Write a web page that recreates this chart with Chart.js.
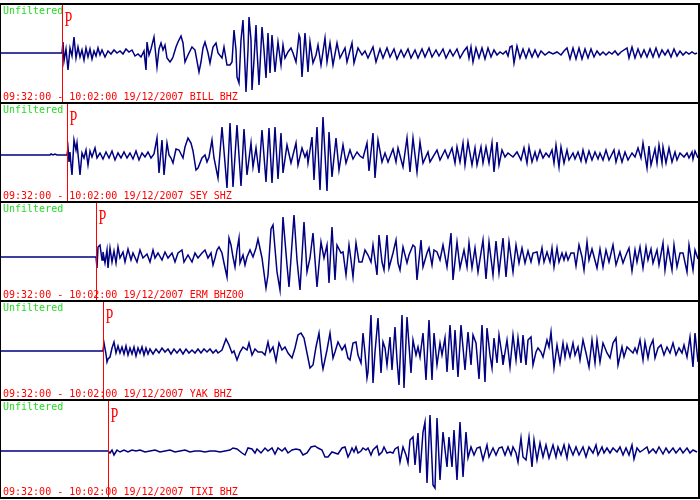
<!DOCTYPE html>
<html>
<head>
<script src="https://cdn.jsdelivr.net/npm/chart.js"></script>
<style>
  body { margin: 0; background: #fff; }
  #wrap { position: relative; width: 700px; height: 500px; }
  .panel { position: absolute; left: 0; }
</style>
</head>
<body>
<div id="wrap"></div>
<script>
// 30 minute window, one sample per screen column
const SAMPLES = 700;
const windowLabel = '09:32:00 - 10:02:00 19/12/2007';
const filterLabel = 'Unfiltered';
const stations = ['BILL BHZ', 'SEY SHZ', 'ERM BHZ00', 'YAK BHZ', 'TIXI BHZ'];
const pArrival = [62, 67, 96, 103, 108];   // sample index of P pick

// [sample, amplitude]
const bill = [[0,0],[62,0],[63,11],[64,-8],[66,4],[68,-17],[70,5],[72,-3],[74,16],[76,-5],[78,6],[80,-4],[82,3],[84,-7],[86,5],[88,-4],[90,4],[92,-6],[94,2],[96,-3],[98,5],[100,-2],[102,3],[105,-4],[108,2],[111,-1],[114,3],[117,0],[120,2],[123,-1],[126,4],[129,1],[132,3],[135,-3],[138,-1],[141,-4],[144,2],[146,-17],[147,11],[149,-2],[151,4],[154,16],[157,-14],[159,4],[161,10],[163,3],[165,8],[167,-5],[170,-9],[172,-6],[173,-4],[176,6],[178,11],[181,17],[183,10],[185,-9],[188,-2],[192,6],[195,3],[199,-19],[201,-9],[203,5],[205,11],[208,0],[210,-10],[213,6],[216,10],[218,0],[222,-5],[224,6],[227,-12],[230,-12],[232,-9],[234,23],[236,3],[237,-24],[239,-30],[241,13],[243,33],[245,-14],[246,-39],[248,3],[249,36],[251,13],[252,-37],[254,-7],[256,28],[257,3],[259,-32],[261,6],[262,26],[264,3],[266,-25],[268,20],[270,-20],[272,18],[275,-19],[278,11],[281,-12],[283,8],[285,-5],[288,1],[291,5],[293,0],[296,-9],[299,18],[300,15],[302,-24],[305,20],[308,-19],[310,11],[313,-10],[316,-2],[318,8],[321,-12],[325,15],[327,-9],[330,10],[333,-12],[337,10],[340,-5],[345,5],[347,-9],[352,10],[354,-10],[358,5],[362,-2],[365,2],[368,-5],[373,6],[376,-9],[380,4],[383,-5],[387,5],[390,-4],[394,4],[397,-6],[401,3],[404,-4],[408,4],[411,-5],[415,3],[418,-5],[422,4],[425,-4],[429,5],[432,-4],[436,3],[439,-3],[443,4],[446,-5],[450,3],[453,-3],[457,4],[460,-5],[464,2],[467,6],[469,-5],[471,6],[473,-9],[476,5],[479,-5],[482,5],[485,-6],[488,5],[491,-4],[494,3],[497,-2],[500,1],[503,-1],[506,2],[508,-3],[510,6],[512,7],[514,-10],[517,7],[520,-5],[523,4],[526,-5],[529,4],[532,-4],[535,3],[538,-4],[541,2],[545,-2],[549,1],[553,-1],[557,1],[561,-2],[564,2],[567,5],[570,-6],[573,5],[576,-6],[579,5],[582,-6],[585,4],[588,-5],[591,4],[594,-4],[597,2],[600,-2],[603,1],[606,-2],[609,1],[612,-1],[615,2],[618,-2],[621,1],[627,5],[629,-5],[632,6],[635,-5],[638,4],[641,-4],[644,3],[647,-4],[650,4],[653,-4],[656,5],[659,-4],[662,3],[665,-2],[668,3],[671,-4],[674,4],[677,-3],[680,2],[683,-2],[686,1],[689,-1],[692,1],[695,-1],[697,0]];

const sey = [[0,0],[50,0],[51,1],[53,0],[55,1],[57,0],[67,0],[68,7],[69,-7],[70,3],[71,-10],[72,-20],[74,15],[76,5],[77,12],[80,-20],[82,2],[84,-3],[86,5],[88,-10],[90,4],[92,-2],[95,7],[97,-3],[100,2],[103,-4],[106,3],[109,-3],[112,4],[115,-5],[118,2],[121,-3],[124,3],[127,-3],[130,2],[133,-4],[136,4],[139,-5],[142,2],[145,-2],[148,3],[151,-3],[154,1],[157,17],[159,-18],[162,15],[164,-20],[167,12],[169,0],[171,-3],[173,-8],[176,6],[179,5],[183,-3],[185,8],[188,17],[191,12],[193,4],[196,-15],[198,-13],[202,-3],[205,0],[207,-7],[209,-2],[212,15],[214,-3],[218,-23],[222,28],[225,-8],[227,-33],[230,32],[233,-32],[237,30],[241,-31],[244,26],[247,-20],[251,12],[253,-12],[256,7],[259,-18],[262,25],[266,-27],[269,27],[272,-28],[275,28],[278,-24],[281,22],[283,-18],[287,10],[291,-8],[296,12],[298,-10],[302,7],[305,-2],[307,3],[308,-8],[312,18],[314,-25],[317,28],[320,-35],[323,38],[327,-36],[329,23],[332,-22],[336,17],[339,-15],[343,10],[346,-8],[350,5],[353,-4],[357,3],[360,-1],[363,-3],[367,12],[369,-16],[373,22],[375,-23],[378,15],[382,-7],[385,2],[388,-7],[393,6],[396,-7],[398,7],[403,-12],[407,17],[410,-17],[413,17],[417,-17],[420,13],[423,-8],[428,3],[430,-7],[437,5],[440,-5],[445,5],[448,-3],[452,7],[455,-8],[457,8],[460,-7],[463,12],[465,-10],[468,13],[472,-10],[475,7],[477,-10],[481,8],[483,-8],[486,8],[489,-8],[492,12],[494,-17],[497,13],[499,-10],[502,5],[505,-2],[508,2],[513,-2],[517,3],[521,-5],[524,7],[527,-8],[529,8],[532,-7],[535,3],[537,-5],[540,5],[543,-3],[546,2],[549,-2],[552,5],[554,-8],[556,10],[559,-12],[561,8],[564,-8],[567,5],[569,-5],[573,2],[575,-4],[578,3],[581,-6],[583,5],[586,-7],[589,4],[592,-5],[595,3],[598,-4],[600,2],[603,-5],[606,5],[609,-5],[614,5],[616,-7],[619,4],[622,-7],[625,3],[628,-5],[632,2],[635,-2],[638,7],[641,-3],[643,12],[647,-13],[649,9],[651,-10],[655,6],[657,-8],[659,10],[662,-8],[663,8],[666,-8],[669,7],[672,-7],[675,3],[677,-5],[680,2],[684,-2],[687,2],[689,-3],[692,3],[693,-4],[695,4],[698,-3]];

const erm = [[0,0],[96,0],[97,-11],[98,10],[100,12],[102,-3],[103,5],[105,-6],[107,7],[108,-11],[110,9],[112,-5],[114,6],[116,-6],[118,10],[120,-1],[123,5],[125,-5],[128,8],[131,-3],[133,4],[137,-5],[140,7],[143,-1],[147,3],[150,-5],[153,7],[155,-1],[158,4],[162,-3],[165,5],[168,-1],[172,4],[175,-5],[178,4],[182,7],[184,-5],[188,2],[192,-5],[195,4],[198,-1],[202,4],[205,7],[208,-1],[211,4],[213,-8],[215,-1],[217,7],[219,10],[222,4],[224,-6],[227,-20],[229,19],[231,12],[233,0],[235,-10],[237,7],[239,19],[240,-6],[243,2],[245,-8],[247,0],[250,7],[253,0],[256,9],[258,18],[262,-1],[266,-31],[268,-18],[271,28],[273,32],[277,-15],[280,-33],[283,40],[287,-8],[289,-30],[294,42],[297,-3],[300,-33],[304,35],[307,-15],[310,-1],[313,24],[317,-30],[321,15],[324,-1],[327,12],[329,-26],[332,30],[335,-23],[337,12],[341,4],[343,5],[346,-18],[349,12],[351,-3],[353,-20],[356,14],[359,-5],[362,-5],[365,7],[368,2],[371,-5],[373,12],[377,-18],[379,22],[382,-5],[384,-13],[387,22],[389,-11],[393,4],[396,17],[398,-6],[400,-13],[403,10],[407,-6],[409,2],[413,12],[415,10],[417,-23],[421,17],[423,-10],[427,4],[429,9],[432,-8],[434,7],[437,5],[440,-3],[443,12],[447,-10],[451,24],[453,-23],[457,15],[460,-11],[464,7],[467,-10],[469,14],[472,-11],[475,9],[478,-15],[483,17],[486,-22],[489,15],[493,-18],[496,16],[499,-16],[503,19],[506,-20],[509,15],[513,-15],[516,12],[519,-6],[522,9],[525,-6],[528,6],[531,-5],[533,4],[537,5],[539,-6],[542,9],[544,-5],[547,5],[550,-5],[552,9],[554,-10],[557,9],[559,-5],[562,4],[564,-3],[566,4],[568,-3],[571,4],[574,4],[576,-9],[579,12],[582,0],[584,-13],[587,15],[589,-3],[592,8],[597,-11],[600,8],[603,-10],[606,7],[609,-5],[613,12],[616,-8],[620,5],[623,-6],[626,2],[629,9],[632,-14],[635,7],[637,-5],[640,10],[643,-11],[646,10],[648,-3],[651,8],[653,-6],[657,7],[659,-8],[663,14],[665,-13],[668,9],[672,-13],[674,12],[677,-10],[680,4],[683,4],[687,-15],[689,12],[693,-13],[695,7],[698,-2]];

const yak = [[0,0],[103,0],[104,8],[106,-3],[107,-11],[108,-8],[110,-6],[112,3],[114,9],[116,-2],[118,5],[120,-2],[122,4],[124,-3],[126,5],[128,-4],[130,3],[132,-3],[134,4],[136,-5],[138,3],[140,-2],[142,4],[144,-4],[146,3],[148,-3],[150,2],[153,-3],[156,2],[159,-2],[162,3],[165,-1],[168,2],[171,-3],[174,2],[177,-2],[180,2],[183,-3],[186,2],[189,-2],[192,1],[195,-2],[198,2],[201,-2],[204,2],[207,-1],[210,2],[213,-2],[216,1],[218,-2],[222,1],[226,12],[229,6],[232,-2],[234,0],[237,-9],[240,-1],[243,4],[247,1],[249,8],[252,-4],[255,2],[258,-1],[262,-1],[265,-4],[268,9],[270,-1],[273,4],[276,-10],[279,8],[282,1],[285,4],[288,-2],[292,-7],[295,3],[298,16],[301,18],[304,13],[307,-2],[310,-17],[313,-14],[316,4],[319,18],[322,-12],[323,-18],[327,1],[330,18],[333,-7],[335,-1],[338,9],[342,1],[345,6],[348,-7],[350,-9],[353,8],[356,9],[358,-4],[361,-12],[363,18],[365,-2],[367,-27],[368,-21],[371,36],[373,-32],[375,-1],[378,33],[381,-22],[383,9],[385,3],[387,-14],[390,14],[392,-19],[395,24],[397,-9],[399,-34],[402,36],[404,-37],[407,34],[411,-22],[413,11],[416,-4],[418,4],[420,-6],[423,18],[426,-29],[429,31],[432,-29],[434,18],[437,-14],[440,8],[442,-4],[445,13],[447,-21],[450,26],[453,-19],[455,21],[458,-26],[461,26],[465,-19],[468,19],[471,-14],[473,16],[476,8],[479,-28],[482,26],[485,-31],[487,23],[490,-4],[492,-17],[494,13],[497,-12],[499,16],[502,-4],[503,-14],[507,11],[510,-16],[513,16],[516,-9],[518,13],[521,-12],[523,16],[526,-14],[528,11],[531,14],[533,-14],[536,-1],[538,3],[541,-1],[543,-6],[547,11],[549,4],[551,19],[554,-17],[557,6],[560,-12],[563,8],[565,-6],[567,6],[570,-6],[573,8],[575,-4],[578,4],[580,-9],[583,11],[586,-2],[589,-16],[592,11],[595,-12],[597,11],[600,-11],[603,8],[607,-2],[610,-7],[613,8],[616,13],[618,-14],[622,4],[624,-6],[627,4],[630,1],[633,-2],[635,3],[637,-2],[640,11],[643,-9],[645,9],[648,-7],[650,4],[653,11],[655,-7],[658,3],[661,6],[664,-4],[667,4],[670,-2],[673,8],[676,-4],[679,3],[682,-2],[684,6],[687,-6],[690,14],[693,-16],[695,18],[698,-11]];

const tixi = [[0,0],[108,0],[110,-2],[112,1],[114,-4],[117,1],[120,-1],[124,1],[128,-1],[132,1],[136,0],[140,1],[145,-1],[150,0],[155,1],[160,-1],[165,0],[170,1],[175,-1],[180,0],[185,1],[190,-1],[195,0],[200,0],[205,-1],[210,0],[215,0],[220,-1],[225,0],[230,1],[233,3],[237,2],[242,-2],[245,-4],[248,3],[252,2],[255,-2],[257,2],[261,-2],[265,3],[268,0],[272,3],[275,-3],[278,3],[282,0],[285,3],[288,-2],[292,1],[296,2],[300,1],[303,-4],[307,-2],[311,4],[315,5],[318,3],[322,1],[325,-6],[328,-6],[332,-1],[335,-2],[338,-3],[342,3],[345,4],[348,-6],[350,-2],[352,3],[354,-1],[356,4],[358,-2],[361,0],[363,3],[366,1],[368,3],[371,-4],[373,1],[377,5],[379,-4],[382,-1],[384,4],[387,-2],[390,-1],[393,-2],[395,2],[398,4],[400,-11],[403,4],[406,-4],[408,-12],[410,11],[413,14],[415,-14],[418,18],[420,-22],[423,19],[425,29],[427,-32],[430,36],[433,-34],[435,-37],[437,33],[440,-29],[443,19],[447,-16],[449,14],[452,-16],[454,21],[457,-29],[460,29],[463,-26],[466,19],[468,-7],[471,4],[474,-4],[477,3],[480,4],[483,-9],[487,6],[489,-6],[493,3],[496,-4],[499,3],[502,4],[505,-4],[508,4],[511,-4],[513,4],[516,-2],[518,-11],[521,13],[523,-6],[526,-9],[529,14],[532,-16],[534,11],[537,-9],[540,8],[543,-6],[546,6],[549,-7],[553,6],[556,-6],[558,4],[561,-4],[564,6],[567,-7],[569,6],[573,-4],[576,4],[579,-4],[583,4],[586,-6],[589,4],[593,-2],[596,6],[598,-4],[602,4],[604,-2],[607,3],[610,-2],[613,3],[617,-1],[620,4],[623,-4],[626,3],[629,-4],[632,6],[634,-8],[637,3],[640,-1],[643,1],[647,4],[649,-2],[653,2],[656,-2],[659,4],[663,-3],[666,3],[669,-2],[673,3],[676,-2],[680,3],[683,-2],[687,3],[690,-2],[693,1],[697,-1]];

const traces = [bill, sey, erm, yak, tixi];

// panel layout (pixels) and amplitude window of each panel
const panelTop = [3, 102, 201, 300, 399];
const panelHeight = [99, 99, 99, 99, 100];
const ampMax = [50, 53, 56, 51, 52];

const wrap = document.getElementById('wrap');

stations.forEach((name, i) => {
  const canvas = document.createElement('canvas');
  canvas.className = 'panel';
  canvas.width = 700;
  canvas.height = panelHeight[i];
  canvas.style.top = panelTop[i] + 'px';
  wrap.appendChild(canvas);

  const last = i === stations.length - 1;

  const decor = {
    id: 'decor' + i,
    afterDraw(chart) {
      const ctx = chart.ctx;
      const w = chart.width, h = chart.height;
      ctx.save();
      // frame
      ctx.fillStyle = '#000';
      ctx.fillRect(0, 0, w, 2);
      ctx.fillRect(0, 0, 1, h);
      ctx.fillRect(w - 2, 0, 2, h);
      if (last) ctx.fillRect(0, h - 2, w, 2);

      // labels
      ctx.font = '10px "DejaVu Sans Mono"';
      ctx.textBaseline = 'top';
      ctx.fillStyle = '#22dd22';
      ctx.fillText(filterLabel, 3, 3);
      ctx.textBaseline = 'alphabetic';
      ctx.fillStyle = '#ff0000';
      ctx.fillText(windowLabel + ' ' + name, 3, last ? h - 4 : h - 2);

      // P pick
      const px = Math.round(chart.scales.x.getPixelForValue(pArrival[i])) + 0.5;
      ctx.strokeStyle = '#ff0000';
      ctx.lineWidth = 1;
      ctx.beginPath();
      ctx.moveTo(px, 2);
      ctx.lineTo(px, last ? h - 2 : h);
      ctx.stroke();
      ctx.translate(px + 2, 8);
      ctx.scale(0.7, 1);
      ctx.font = '20px "Liberation Serif"';
      ctx.textBaseline = 'top';
      ctx.fillText('P', 0, 0);
      ctx.restore();
    }
  };

  new Chart(canvas, {
    type: 'line',
    data: {
      datasets: [{
        data: traces[i].map(p => ({ x: p[0], y: p[1] })),
        borderColor: '#000080',
        borderWidth: 1.5,
        pointRadius: 0,
        tension: 0,
        fill: false
      }]
    },
    options: {
      responsive: false,
      animation: false,
      devicePixelRatio: 1,
      layout: { padding: 0 },
      plugins: { legend: { display: false }, tooltip: { enabled: false } },
      scales: {
        x: { type: 'linear', min: 0, max: SAMPLES, display: false },
        y: { min: ampMax[i] - panelHeight[i], max: ampMax[i], display: false }
      }
    },
    plugins: [decor]
  });
});
</script>
</body>
</html>
